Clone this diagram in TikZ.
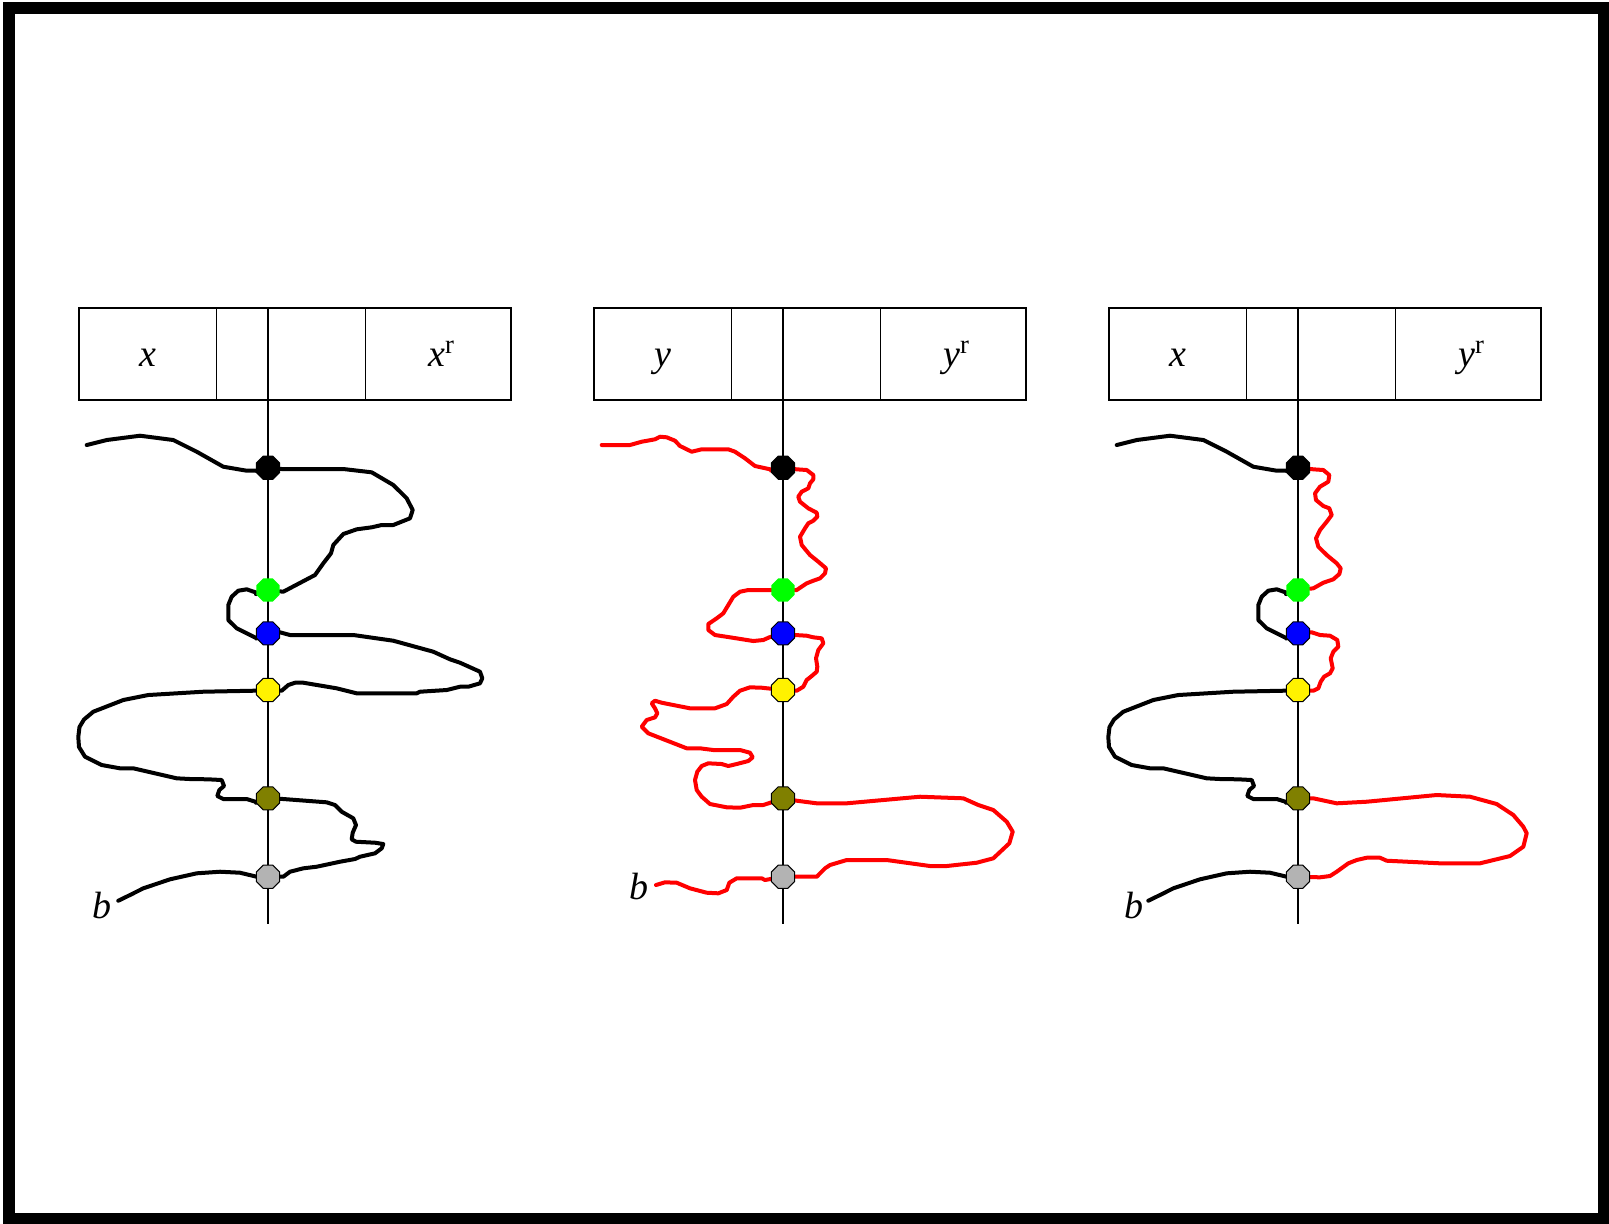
\documentclass[tikz,border=0pt]{standalone}
\usepackage{fontspec}
\setmainfont{Liberation Serif}
\usetikzlibrary{shapes.geometric}
\pgfdeclarelayer{back}
\pgfsetlayers{back,main}
\definecolor{olivedot}{RGB}{128,128,0}
\definecolor{greydot}{RGB}{179,179,179}

\begin{document}
\begin{tikzpicture}[x=0.5pt,y=-0.5pt,
  dot/.style={regular polygon, regular polygon sides=8, minimum size=12.5pt,
    inner sep=0pt, draw=black, line width=0.5pt},
  walk/.style={line width=2pt, line join=round, line cap=round},
  redwalk/.style={walk, draw=red},
  rule/.style={line width=0.65pt},
  strip/.style={draw, rule, minimum width=216pt, minimum height=46pt, inner sep=0pt},
  lab/.style={font=\fontsize{19}{23}\selectfont\itshape, inner sep=0pt, anchor=base}]

\useasboundingbox (0,0) rectangle (1609,1223);
\draw[line width=6pt] (9,8) rectangle (1603.5,1218.5);

% ---------- three strips with their cells ----------
\foreach \k/\dx in {1/0, 2/515, 3/1030} {
  \node[strip] (strip\k) at (295+\dx,354) {};
  \draw[rule] (216.7+\dx,308) -- (216.7+\dx,400);
  \draw[rule] (365.7+\dx,308) -- (365.7+\dx,400);
}
\node[lab] (l1a) at (148.3,366) {x};
\node[lab] (l1b) at (441.7,366) {x\textsuperscript{\upshape r}};
\node[lab] (l2a) at (663.3,366) {y};
\node[lab] (l2b) at (956.7,366) {y\textsuperscript{\upshape r}};
\node[lab] (l3a) at (1178.3,366) {x};
\node[lab] (l3b) at (1471.7,366) {y\textsuperscript{\upshape r}};

% ---------- crossing points on each axis ----------
\foreach \k/\cx in {1/268, 2/783, 3/1298} {
  \coordinate (top\k) at (\cx,308);
  \coordinate (bot\k) at (\cx,924);
  \node[dot, fill=black] (A\k) at (\cx,467.7) {};
  \node[dot, fill=green, draw=none] (B\k) at (\cx,590) {};
  \node[dot, fill=blue] (C\k) at (\cx,633.3) {};
  \node[dot, fill=yellow] (D\k) at (\cx,690) {};
  \node[dot, fill=olivedot] (E\k) at (\cx,798.3) {};
  \node[dot, fill=greydot] (F\k) at (\cx,876.7) {};
}

\node[lab] (b1) at (101.7,918) {b};
\node[lab] (b2) at (639,899.5) {b};
\node[lab] (b3) at (1133.5,918) {b};

\begin{pgfonlayer}{back}
\foreach \k in {1,2,3} \draw[rule] (top\k) -- (bot\k);

% ---------- first walk (all black) ----------
\draw[walk] (86.7,445) -- (106.7,440) -- (140,435.7) -- (173.3,440) -- (196.7,451.7)
  -- (223.3,466.7) -- (246.7,470.7) -- (256.7,470.7) -- (A1);
\draw[walk] (A1) -- (281.7,469) -- (343.3,469) -- (371.7,472.3) -- (393.3,485)
  -- (406.7,498.3) -- (412.7,510) -- (410,518.3) -- (393.3,525) -- (381.7,525)
  -- (371.7,527.3) -- (356.7,529.3) -- (343.3,534) -- (333.3,545) -- (331,553.3)
  -- (323.3,563.3) -- (315,575) -- (283.3,591.7) -- (B1);
\draw[walk] (B1) -- (258.3,593.3) -- (246.7,589.3) -- (238.3,590.7) -- (231.7,596.7)
  -- (228.3,605) -- (228.3,620) -- (236.7,628.3) -- (246.7,633.3) -- (256.7,638.3) -- (C1);
\draw[walk] (C1) -- (280,632.3) -- (290,635) -- (353.3,635) -- (393.3,640.7)
  -- (433.3,651.7) -- (450,659.3) -- (460,662.7) -- (480,671.7) -- (482.3,678.3)
  -- (480,683.3) -- (468.3,686.7) -- (460,686.7) -- (446.7,690) -- (420,691.7)
  -- (416.7,693.3) -- (356.7,693.3) -- (336.7,688.3) -- (303.3,682.7) -- (295,682.7)
  -- (288.3,685) -- (281.7,690.7) -- (D1);
\draw[walk] (D1) -- (254,690.7) -- (203.3,691.7) -- (148.3,695) -- (123.3,700)
  -- (93.3,711.7) -- (84,719.5) -- (79.5,727) -- (78.3,737) -- (79,747) -- (85,756.7)
  -- (101.7,765) -- (120,768.3) -- (133.3,768.3) -- (176.7,778.3) -- (190,779)
  -- (208.3,779.3) -- (221.7,780) -- (224,786) -- (219.3,790) -- (217.3,796)
  -- (223.3,799) -- (246.7,799) -- (257.3,802.3) -- (E1);
\draw[walk] (E1) -- (283.3,799) -- (326.7,802.3) -- (335,805) -- (341.7,811.7)
  -- (353.3,818.3) -- (356,825) -- (352.7,832.7) -- (351.7,839.3) -- (356,841.7)
  -- (375,842.7) -- (383.3,844) -- (381.7,848.3) -- (375,853.3) -- (360,856.7)
  -- (355,859) -- (340,861.7) -- (316.7,866.7) -- (303.3,868.3) -- (290,871.7)
  -- (283.3,876.7) -- (F1);
\draw[walk] (F1) -- (256.7,876.7) -- (240,872.7) -- (220,871.7) -- (196.7,873.3)
  -- (170,879.3) -- (143.3,888.3) -- (130,895) -- (118.3,900.7);

% ---------- second walk (all red) ----------
\draw[redwalk] (601.7,445) -- (630,445) -- (641.7,441.7) -- (655,439.3) -- (660,436.7)
  -- (666.7,437.3) -- (675,440.7) -- (680,446) -- (691.7,451.7) -- (701.7,449.3)
  -- (728.3,449.3) -- (735,451.7) -- (745,458.3) -- (755,466) -- (773.3,470) -- (A2);
\draw[redwalk] (A2) -- (796.7,469.3) -- (806.7,470) -- (813.3,475) -- (813.3,479.3)
  -- (810,483.3) -- (808.3,488.3) -- (801.7,491.7) -- (798.3,496.7) -- (800,501.7)
  -- (808.3,508.3) -- (816.7,512.7) -- (817.3,516.7) -- (813.3,520.7) -- (808.3,523.3)
  -- (805,528.3) -- (800,536.7) -- (801.7,545) -- (810,555) -- (818.3,561.7)
  -- (826,568.3) -- (825,573.3) -- (820,578.3) -- (813.3,580.7) -- (806.7,583.3)
  -- (796.7,590) -- (B2);
\draw[redwalk] (B2) -- (748.3,590) -- (740,591.7) -- (733.3,596.7) -- (728.3,605)
  -- (723.3,613.3) -- (716.7,618.3) -- (708.3,624) -- (708.3,630) -- (715,635)
  -- (730,637.3) -- (753.3,641) -- (763.3,640) -- (769.3,637.3) -- (C2);
\draw[redwalk] (C2) -- (795,635) -- (806.7,635.7) -- (813.3,637.3) -- (821.7,638.3)
  -- (823.3,643.3) -- (818.3,650) -- (816,658.3) -- (817.3,666.7) -- (816.7,671.7)
  -- (811.7,676) -- (806.7,680) -- (803.3,686.7) -- (796.7,690.7) -- (D2);
\draw[redwalk] (D2) -- (761.7,687.7) -- (750,687.3) -- (740,690.7) -- (733.3,696.7)
  -- (726.7,704) -- (715,708.3) -- (690,708.3) -- (661.7,702.7) -- (655,700.7)
  -- (651.7,703.3) -- (655,708.3) -- (657.3,713.3) -- (655,717.3) -- (646.7,720)
  -- (641.7,726.7) -- (648.3,733.3) -- (686.7,748.3) -- (700,748.3) -- (713.3,750)
  -- (740,750) -- (750,752.7) -- (752.7,757.3) -- (748.3,761) -- (736.7,764)
  -- (728.3,766) -- (721.7,764) -- (708.3,763.3) -- (701.7,766) -- (697.3,771.7)
  -- (695,780) -- (696.7,790) -- (701.7,796.7) -- (710,804) -- (726.7,807.3)
  -- (740,807.7) -- (753.3,805) -- (763.3,805) -- (773.3,801.7) -- (E2);
\draw[redwalk] (E2) -- (796.7,800.7) -- (816.7,803.3) -- (846.7,803.3) -- (920,796.7)
  -- (963.3,798.3) -- (978.3,805) -- (993.3,810) -- (1006.7,821.7) -- (1012.7,831.7)
  -- (1009.3,843.3) -- (993.3,858.3) -- (976.7,862.7) -- (946.7,866) -- (930,866)
  -- (886.7,860) -- (846.7,860) -- (830,865) -- (825,868.3) -- (816.7,876.7) -- (F2);
\draw[redwalk] (F2) -- (765,880) -- (761.7,878.3) -- (736.7,878.3) -- (729.3,882.7)
  -- (726.7,890) -- (718.3,893.3) -- (706.7,892.7) -- (690,888.3) -- (676.7,882.7)
  -- (665,882.3) -- (656,885);

% ---------- third walk: black pieces of the first, red detours ----------
\begin{scope}[xshift=515pt]
\draw[walk] (86.7,445) -- (106.7,440) -- (140,435.7) -- (173.3,440) -- (196.7,451.7)
  -- (223.3,466.7) -- (246.7,470.7) -- (256.7,470.7) -- (A3);
\draw[walk] (B3) -- (258.3,593.3) -- (246.7,589.3) -- (238.3,590.7) -- (231.7,596.7)
  -- (228.3,605) -- (228.3,620) -- (236.7,628.3) -- (246.7,633.3) -- (256.7,638.3) -- (C3);
\draw[walk] (D3) -- (254,690.7) -- (203.3,691.7) -- (148.3,695) -- (123.3,700)
  -- (93.3,711.7) -- (84,719.5) -- (79.5,727) -- (78.3,737) -- (79,747) -- (85,756.7)
  -- (101.7,765) -- (120,768.3) -- (133.3,768.3) -- (176.7,778.3) -- (190,779)
  -- (208.3,779.3) -- (221.7,780) -- (224,786) -- (219.3,790) -- (217.3,796)
  -- (223.3,799) -- (246.7,799) -- (257.3,802.3) -- (E3);
\draw[walk] (F3) -- (256.7,876.7) -- (240,872.7) -- (220,871.7) -- (196.7,873.3)
  -- (170,879.3) -- (143.3,888.3) -- (130,895) -- (118.3,900.7);
\end{scope}
\draw[redwalk] (A3) -- (1313.3,469.3) -- (1323.3,470) -- (1329.3,475) -- (1328.3,481.7)
  -- (1320,486.7) -- (1315,493.3) -- (1316,500) -- (1323.3,506) -- (1329.3,508.3)
  -- (1331.7,515) -- (1326.7,521.7) -- (1320,530) -- (1316,538.3) -- (1318.3,546.7)
  -- (1326.7,555) -- (1336.7,563.3) -- (1340.7,568.3) -- (1339.3,574) -- (1333.3,579.3)
  -- (1323.3,582.7) -- (1313.3,588.3) -- (B3);
\draw[redwalk] (C3) -- (1311.7,632.3) -- (1320,635) -- (1330,635.7) -- (1337.3,640)
  -- (1338.3,646.7) -- (1333.3,651.7) -- (1330.7,658.3) -- (1332.7,668.3) -- (1330,673.3)
  -- (1324,676.7) -- (1320.7,681.7) -- (1318.3,688.3) -- (1313.3,690.7) -- (D3);
\draw[redwalk] (E3) -- (1313.3,798.3) -- (1336.7,803.3) -- (1366.7,801.7) -- (1436.7,795)
  -- (1470,796.7) -- (1496.7,804) -- (1513.3,815) -- (1523.3,826.7) -- (1526.7,833.3)
  -- (1523.3,846.7) -- (1510,856) -- (1480,863.3) -- (1440,863.3) -- (1386.7,860.7)
  -- (1380,857.7) -- (1366.7,857.7) -- (1356.7,860) -- (1348.3,863.3) -- (1336.7,871.7)
  -- (1330,876) -- (1320,877.3) -- (F3);
\end{pgfonlayer}
\end{tikzpicture}
\end{document}
